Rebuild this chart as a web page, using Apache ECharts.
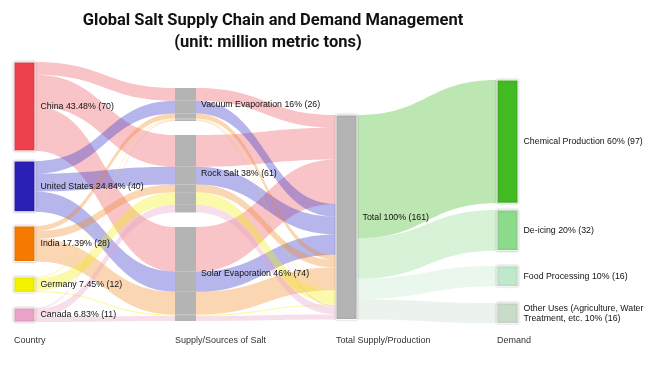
<!DOCTYPE html>
<html><head><meta charset="utf-8">
<script src="https://cdn.jsdelivr.net/npm/echarts@6/dist/echarts.min.js"></script>
<style>html,body{margin:0;padding:0;background:#fff}#c{width:650px;height:374px}</style>
</head><body><div id="c"></div>
<script>
// ---------------- DATA ----------------
const countries = ['China', 'United States', 'India', 'Germany', 'Canada'];
const sources = ['Vacuum Evaporation', 'Rock Salt', 'Solar Evaporation'];
const totalName = 'Total';
const demands = ['Chemical Production', 'De-icing', 'Food Processing', 'Other Uses (Agriculture, Water Treatment, etc.'];
// flows from each country (same order as countries) into each source
const flowVacuum = [10, 10, 4, 1, 1];
const flowRock = [25, 14, 6, 10, 6];
const flowSolar = [35, 16, 18, 1, 4];
const demandValues = [97, 32, 16, 16];
const columnTitles = ['Country', 'Supply/Sources of Salt', 'Total Supply/Production', 'Demand'];
const titleLines = ['Global Salt Supply Chain and Demand Management', '(unit: million metric tons)'];

// ---------------- STYLE / LAYOUT ----------------
const countryColors = ['#ee414d', '#2a20b6', '#f57a00', '#f3f300', '#eaa3c9'];
const linkColors = ['#eb5662', '#2e2ec9', '#f48a23', '#f1f10c', '#e8a1c6'];
const demandColors = ['#42ba22', '#8cda8c', '#c0e8cc', '#c9dcc9'];
const gray = '#b4b4b4';
const KY = 1.27;          // px per unit
const TOP = 62;
const LEFT = 14;
const COLW = 161;
const NODEW = 21;
const countryTops = [62, 161, 226, 277, 308];
const sourceTops = [88, 135, 227];
const totalTop = 115;
const demandTops = [80, 210, 266, 303];
const WRAP_CHARS = 31;
const LABEL_FONT = 8.8;

const flows = [flowVacuum, flowRock, flowSolar];
const sum = a => a.reduce((s, v) => s + v, 0);
const total = sum(flows.map(sum));
const H = total * KY;
const ly = top => (top - TOP) / H;
const nodeStyle = { borderColor: '#fff', borderWidth: 1, shadowBlur: 2, shadowColor: 'rgba(0,0,0,0.3)' };
function wrap(text) {
  const words = text.split(' ');
  const lines = [];
  let cur = '';
  words.forEach(w => {
    const t = cur ? cur + ' ' + w : w;
    if (t.length > WRAP_CHARS && cur) { lines.push(cur); cur = w; } else { cur = t; }
  });
  lines.push(cur);
  return lines.join('\n');
}

const nodes = [];
const links = [];
countries.forEach((c, i) => {
  const v = sum(flows.map(f => f[i]));
  nodes.push({ name: c, localY: ly(countryTops[i]),
    itemStyle: Object.assign({ color: countryColors[i] }, nodeStyle),
    label: { formatter: c + ' ' + (v / total * 100).toFixed(2) + '% (' + v + ')' } });
});
// source blocks split by country so that flows stay grouped by country at the total node
countries.forEach((c, i) => {
  sources.forEach((s, j) => {
    const before = sum(flows[j].slice(0, i));
    const blockSum = sum(flows[j]);
    const nd = { name: s + '|' + c, localY: ly(sourceTops[j] + before * KY),
      itemStyle: { color: gray, borderWidth: 0 } };
    if (i === 0) {
      nd.label = { show: true, offset: [0, (blockSum - flows[j][0]) * KY / 2],
        formatter: s + ' ' + Math.round(blockSum / total * 100) + '% (' + blockSum + ')' };
    } else {
      nd.label = { show: false };
    }
    nodes.push(nd);
    links.push({ source: c, target: s + '|' + c, value: flows[j][i], lineStyle: { color: linkColors[i] } });
  });
});
countries.forEach((c, i) => {
  sources.forEach((s, j) => {
    links.push({ source: s + '|' + c, target: totalName, value: flows[j][i], lineStyle: { color: linkColors[i] } });
  });
});
nodes.push({ name: totalName, localY: ly(totalTop), itemStyle: Object.assign({ color: gray }, nodeStyle),
  label: { formatter: 'Total 100% (' + total + ')' } });
demands.forEach((d, k) => {
  const lab = { formatter: wrap(d + ' ' + Math.round(demandValues[k] / total * 100) + '% (' + demandValues[k] + ')'), lineHeight: 10 };
  nodes.push({ name: d, localY: ly(demandTops[k]), itemStyle: Object.assign({ color: demandColors[k] }, nodeStyle), label: lab });
  links.push({ source: totalName, target: d, value: demandValues[k], lineStyle: { color: 'target' } });
});

const chart = echarts.init(document.getElementById('c'));
chart.setOption({
  animation: false,
  graphic: [
    { type: 'text', x: 273, y: 21, style: { text: titleLines[0], fontSize: 16.5, fontWeight: 'bold', fontFamily: 'Roboto', align: 'center', verticalAlign: 'middle', fill: '#111' } },
    { type: 'text', x: 268, y: 43, style: { text: titleLines[1], fontSize: 16.5, fontWeight: 'bold', fontFamily: 'Roboto', align: 'center', verticalAlign: 'middle', fill: '#111' } }
  ].concat(columnTitles.map((t, i) => ({ type: 'text', x: LEFT + i * COLW, y: 341,
    style: { text: t, fontSize: 9, fontFamily: 'Liberation Sans, Arial', verticalAlign: 'middle', fill: '#333' } }))),
  series: [{
    type: 'sankey',
    left: LEFT, top: TOP, width: COLW * 3 + NODEW, height: H,
    nodeWidth: NODEW, nodeGap: 0, layoutIterations: 0, draggable: false,
    emphasis: { disabled: true },
    label: { position: 'right', distance: 5, fontSize: LABEL_FONT, fontFamily: 'Liberation Sans, Arial', color: '#111' },
    lineStyle: { opacity: 0.35, curveness: 0.5 },
    data: nodes,
    links: links
  }]
});
</script></body></html>
